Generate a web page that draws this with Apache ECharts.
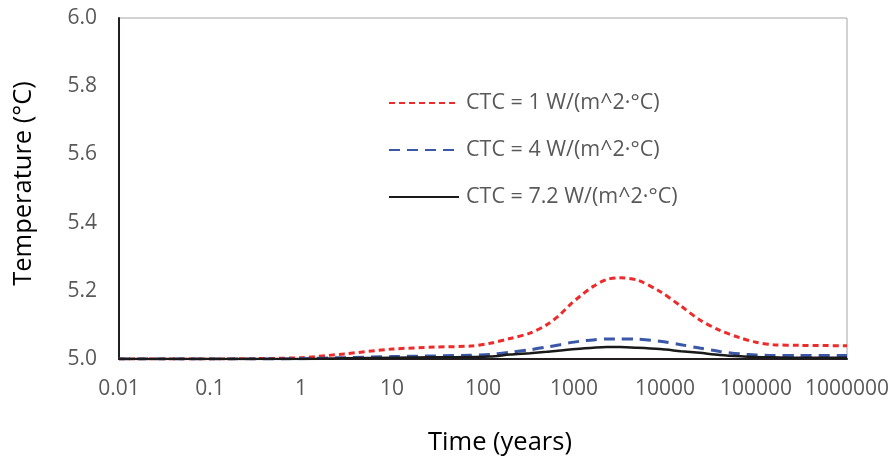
<!DOCTYPE html>
<html><head><meta charset="utf-8">
<script src="https://cdn.jsdelivr.net/npm/echarts@6/dist/echarts.min.js"></script>
<style>html,body{margin:0;padding:0;background:#fff}#c{width:891px;height:460px}</style>
</head><body><div id="c"></div>
<script>
const years = [0.01, 0.03, 0.1, 0.3, 1, 3, 10, 30, 72, 119, 198, 328, 500, 700, 903, 1164, 1630, 2290, 3200, 5000, 8800, 15000, 24000, 40000, 67000, 100000, 155000, 300000, 1000000];
const ctc1 = [5.0, 5.0, 5.0, 5.001, 5.004, 5.015, 5.029, 5.035, 5.038, 5.046, 5.060, 5.076, 5.100, 5.130, 5.159, 5.184, 5.213, 5.233, 5.238, 5.231, 5.198, 5.155, 5.115, 5.084, 5.062, 5.049, 5.042, 5.04, 5.039];
const ctc4 = [5.0, 5.0, 5.0, 5.0, 5.001, 5.004, 5.007, 5.009, 5.011, 5.013, 5.02, 5.027, 5.035, 5.042, 5.048, 5.052, 5.056, 5.059, 5.059, 5.058, 5.052, 5.042, 5.032, 5.022, 5.015, 5.012, 5.01, 5.01, 5.01];
const ctc72 = [5.0, 5.0, 5.0, 5.0, 5.0, 5.002, 5.004, 5.005, 5.006, 5.007, 5.013, 5.017, 5.021, 5.025, 5.028, 5.030, 5.033, 5.035, 5.035, 5.033, 5.029, 5.023, 5.018, 5.012, 5.008, 5.006, 5.005, 5.004, 5.004];
const seriesNames = ['CTC = 1 W/(m^2·°C)', 'CTC = 4 W/(m^2·°C)', 'CTC = 7.2 W/(m^2·°C)'];
const xAxisName = 'Time (years)';
const yAxisName = 'Temperature (°C)';

const FONT = 'Open Sans';
const pair = a => years.map((x, i) => [x, a[i]]);
const chart = echarts.init(document.getElementById('c'), null, {renderer: 'canvas'});
chart.setOption({
  animation: false,
  backgroundColor: '#fff',
  grid: {left: 119, top: 18, right: 44, bottom: 101, show: true, borderColor: '#a6a6a6', borderWidth: 1,
         backgroundColor: 'transparent', containLabel: false, outerBoundsMode: 'none'},
  legend: {
    orient: 'vertical', left: 388, top: 90, padding: 0, itemWidth: 70, itemHeight: 14, itemGap: 21,
    itemStyle: {opacity: 0},
    textStyle: {fontFamily: FONT, fontSize: 21.5, color: '#595959', lineHeight: 26, padding: [0, 0, 0, 2]},
    data: seriesNames
  },
  xAxis: {
    type: 'log', logBase: 10, min: 0.01, max: 1000000,
    name: xAxisName, nameLocation: 'middle', nameGap: 71,
    nameTextStyle: {fontFamily: FONT, fontSize: 25.5, color: '#000', padding: [0, 0, 0, 34]},
    axisLine: {lineStyle: {color: '#231f20', width: 2}},
    axisTick: {show: false}, splitLine: {show: false}, minorTick: {show: false},
    axisLabel: {fontFamily: FONT, fontSize: 21, color: '#595959', margin: 20,
      formatter: v => String(Number(v.toPrecision(6)))}
  },
  yAxis: {
    type: 'value', min: 5, max: 6, interval: 0.2,
    name: yAxisName, nameLocation: 'middle', nameGap: 82,
    nameTextStyle: {fontFamily: FONT, fontSize: 25.5, color: '#000', padding: [0, 0, 0, 10]},
    axisLine: {show: true, lineStyle: {color: '#231f20', width: 2}},
    axisTick: {show: false}, splitLine: {show: false},
    axisLabel: {fontFamily: FONT, fontSize: 21, color: '#595959', margin: 22, formatter: v => v.toFixed(1)}
  },
  series: [
    {name: seriesNames[0], type: 'line', data: pair(ctc1), smooth: 0.3, symbol: 'none',
     lineStyle: {color: '#ee2a2a', width: 3, type: [6, 4]}, itemStyle: {color: '#ee2a2a'}},
    {name: seriesNames[1], type: 'line', data: pair(ctc4), smooth: 0.3, symbol: 'none',
     lineStyle: {color: '#3a57a8', width: 3, type: [11, 7]}, itemStyle: {color: '#3a57a8'}},
    {name: seriesNames[2], type: 'line', data: pair(ctc72), smooth: 0.3, symbol: 'none',
     lineStyle: {color: '#1a1a1a', width: 2.5}, itemStyle: {color: '#1a1a1a'}}
  ]
});
</script></body></html>
